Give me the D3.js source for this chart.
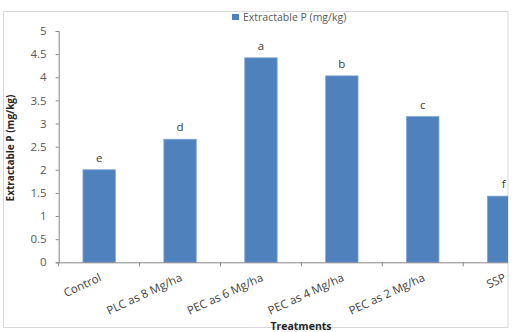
<!DOCTYPE html>
<html><head><meta charset="utf-8">
<script src="https://cdn.jsdelivr.net/npm/d3@7"></script>
<style>body{margin:0;background:#fff}svg{display:block}</style>
</head><body>
<script>
const categories = ["Control","PLC as 8 Mg/ha","PEC as 6 Mg/ha","PEC as 4 Mg/ha","PEC as 2 Mg/ha","SSP"];
const values = [2.0, 2.66, 4.42, 4.03, 3.15, 1.43];
const letters = ["e","d","a","b","c","f"];
const yTicks = [0,0.5,1,1.5,2,2.5,3,3.5,4,4.5,5];
const seriesName = "Extractable P (mg/kg)";

const W=520,H=332;
const svg=d3.select("body").append("svg").attr("width",W).attr("height",H);
const font="'Open Sans', 'Liberation Sans', sans-serif";
const gray="#595959";

svg.append("defs").append("clipPath").attr("id","clip")
  .append("rect").attr("x",3).attr("y",11).attr("width",505).attr("height",317);

// frame
svg.append("rect").attr("x",3.5).attr("y",11.5).attr("width",504.5).attr("height",316)
  .attr("fill","none").attr("stroke","#d9d9d9").attr("stroke-width",1);

const x0=58.7, band=80.9;
const x=d3.scaleBand().domain(categories).range([x0,x0+band*categories.length]).paddingInner(0.6).paddingOuter(0.3);
const y=d3.scaleLinear().domain([0,5]).range([262.3,31]);

const g=svg.append("g").attr("clip-path","url(#clip)");

// bars
g.selectAll("rect.bar").data(values).join("rect").attr("class","bar")
  .attr("x",(d,i)=>x(categories[i]))
  .attr("y",d=>y(d)).attr("width",x.bandwidth()).attr("height",d=>y(0)-y(d))
  .attr("fill","#4f81bd").attr("stroke","#7ea3d3").attr("stroke-width",0.8);

// letters
g.selectAll("text.lt").data(letters).join("text").attr("class","lt")
  .attr("x",(d,i)=>x(categories[i])+x.bandwidth()/2)
  .attr("y",(d,i)=>y(values[i])-8)
  .attr("text-anchor","middle").attr("font-family",font).attr("font-size",11.5).attr("fill","#404040")
  .text(d=>d);

// y axis
const ya=svg.append("g").attr("transform",`translate(${x0},0)`)
  .call(d3.axisLeft(y).tickValues(yTicks).tickSize(3).tickPadding(9).tickFormat(d3.format("")));
ya.select(".domain").attr("stroke","#868686");
ya.selectAll("line").attr("stroke","#868686");
ya.selectAll("text").attr("font-family",font).attr("font-size",11.5).attr("fill",gray);

// x axis
const xa=svg.append("g").attr("clip-path","url(#clip)");
xa.append("line").attr("x1",x0).attr("x2",520).attr("y1",y(0)+0.5).attr("y2",y(0)+0.5).attr("stroke","#868686");
const tickPos=d3.range(0,categories.length+1).map(i=>x0+i*band);
xa.selectAll("line.t").data(tickPos).join("line").attr("class","t")
  .attr("x1",d=>d).attr("x2",d=>d).attr("y1",y(0)).attr("y2",y(0)+4).attr("stroke","#868686");

svg.selectAll("text.xl").data(categories).join("text").attr("class","xl")
  .attr("transform",(d,i)=>`translate(${x(d)+x.bandwidth()/2+3},${y(0)+18}) rotate(-25)`)
  .attr("text-anchor","end").attr("font-family",font).attr("font-size",11.5).attr("fill","#404040")
  .text(d=>d);

// axis titles
svg.append("text").attr("transform",`translate(14,148) rotate(-90)`)
  .attr("text-anchor","middle").attr("font-family",font).attr("font-size",10).attr("font-weight","bold").attr("fill","#262626")
  .text(seriesName);
svg.append("text").attr("x",301).attr("y",330).attr("text-anchor","middle")
  .attr("font-family",font).attr("font-size",10.5).attr("font-weight","bold").attr("fill","#262626")
  .text("Treatments");

// legend
svg.append("rect").attr("x",232).attr("y",14).attr("width",7).attr("height",6).attr("fill","#4f81bd");
svg.append("text").attr("x",243).attr("y",20.5).attr("font-family",font).attr("font-size",10.5).attr("fill",gray).text(seriesName);
</script>
</body></html>
